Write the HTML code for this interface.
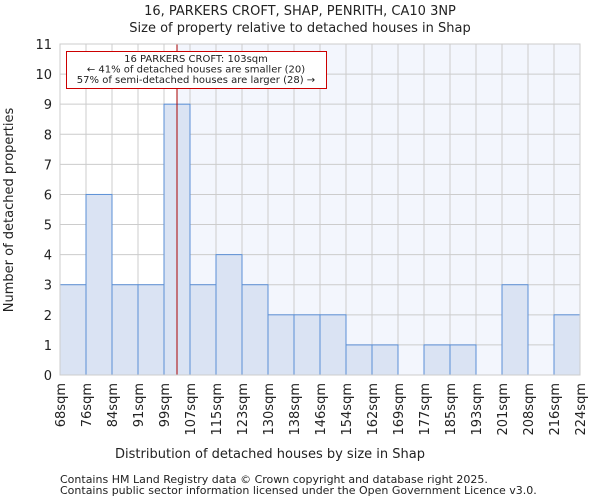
<!DOCTYPE html>
<html><head><meta charset="utf-8"><style>
body{margin:0;background:#fff;font-family:"DejaVu Sans","Liberation Sans",sans-serif;}
svg text{font-family:"DejaVu Sans","Liberation Sans",sans-serif;fill:#222;}
</style></head><body>
<svg id="c" width="600" height="500" xmlns="http://www.w3.org/2000/svg">
<text x="300" y="15" font-size="13" text-anchor="middle">16, PARKERS CROFT, SHAP, PENRITH, CA10 3NP</text>
<text x="300" y="32" font-size="13" text-anchor="middle">Size of property relative to detached houses in Shap</text>
<g id="plot"></g>
<text x="270" y="458" font-size="13" text-anchor="middle">Distribution of detached houses by size in Shap</text>
<text transform="translate(13,210) rotate(-90)" font-size="13" text-anchor="middle">Number of detached properties</text>
<text x="60" y="483" font-size="11">Contains HM Land Registry data © Crown copyright and database right 2025.</text>
<text x="60" y="494" font-size="11">Contains public sector information licensed under the Open Government Licence v3.0.</text>
</svg>
<script>
const categories=["68sqm","76sqm","84sqm","91sqm","99sqm","107sqm","115sqm","123sqm","130sqm","138sqm","146sqm","154sqm","162sqm","169sqm","177sqm","185sqm","193sqm","201sqm","208sqm","216sqm","224sqm"];
const counts=[3,6,3,3,9,3,4,3,2,2,2,1,1,0,1,1,0,3,0,2];
const yTicks=[0,1,2,3,4,5,6,7,8,9,10,11];
const markerBin=4.5;
const L=60,R=580,T=44,B=375,yMax=11;
const bw=(R-L)/counts.length;
const xs=i=>L+i*bw;
const ys=v=>B-(v/yMax)*(B-T);
const NS="http://www.w3.org/2000/svg";
const g=document.getElementById('plot');
function mk(t,a){const e=document.createElementNS(NS,t);for(const k in a)e.setAttribute(k,a[k]);g.appendChild(e);return e;}
const mx=xs(markerBin);
let e=mk('rect',{x:mx,y:T,width:R-mx,height:B-T,fill:'#f3f6fd'});


yTicks.forEach(v=>{
 let l=mk('line',{x1:L,x2:R,y1:ys(v),y2:ys(v),stroke:'#ccc','stroke-width':1});
 
 
 let t=mk('text',{x:L-8,y:ys(v)+5,'font-size':13,'text-anchor':'end'});t.textContent=v;
 
 
});
categories.forEach((c,i)=>{
 let l=mk('line',{x1:xs(i),x2:xs(i),y1:T,y2:B,stroke:'#ccc','stroke-width':1});
 
 
 let t=mk('text',{'font-size':13,'text-anchor':'end',transform:`translate(${xs(i)+5},${B+8}) rotate(-90)`});t.textContent=c;
 
 
});
counts.forEach((v,i)=>{
 if(v<=0)return;
 let r=mk('rect',{x:xs(i),y:ys(v),width:bw,height:B-ys(v),fill:'#dae3f3',stroke:'#5b8fd6','stroke-width':1});
 
 
});
e=mk('line',{x1:mx,x2:mx,y1:T,y2:B,stroke:'#a00','stroke-width':1});


e=mk('rect',{x:66.5,y:51.5,width:260,height:37,fill:'#fff',stroke:'#c00','stroke-width':1});


["16 PARKERS CROFT: 103sqm","← 41% of detached houses are smaller (20)","57% of semi-detached houses are larger (28) →"].forEach((s,k)=>{
 let t=mk('text',{x:196,y:62+k*10.5,'font-size':10,'text-anchor':'middle'});t.textContent=s;
 
 
});
e=mk('rect',{x:L,y:T,width:R-L,height:B-T,fill:'none',stroke:'#ccc'});


</script>
</body></html>
